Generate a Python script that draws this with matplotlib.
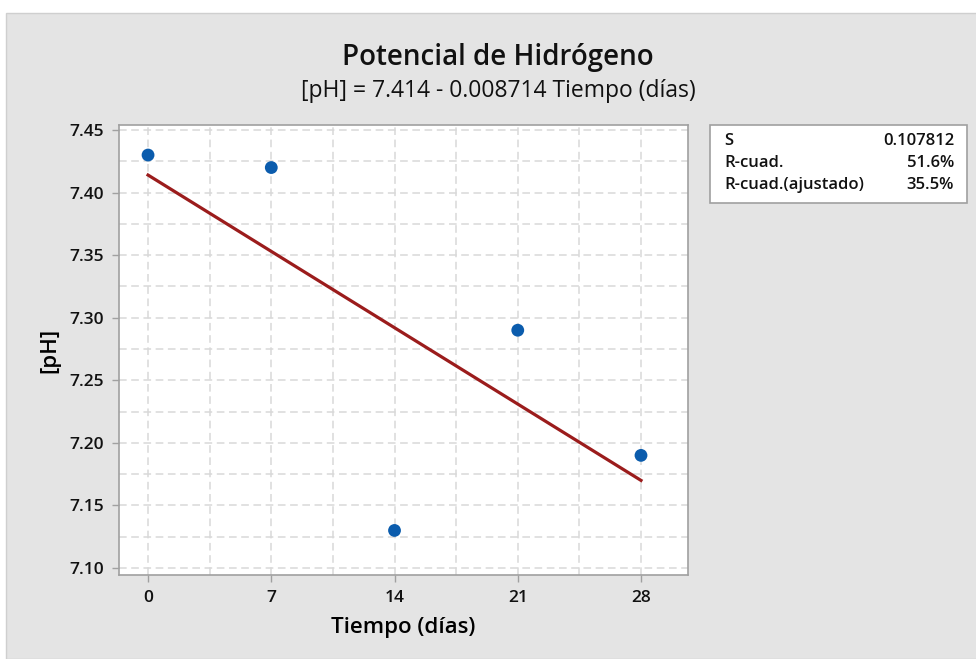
import matplotlib.pyplot as plt
from matplotlib.patches import Rectangle
from matplotlib.ticker import MultipleLocator
import numpy as np

# Data
tiempo = [0, 7, 14, 21, 28]
ph = [7.43, 7.42, 7.13, 7.29, 7.19]
x_ticks = [0, 7, 14, 21, 28]
y_ticks = [7.10, 7.15, 7.20, 7.25, 7.30, 7.35, 7.40, 7.45]
stat_names = ["S", "R-cuad.", "R-cuad.(ajustado)"]
stat_values = ["0.107812", "51.6%", "35.5%"]

plt.rcParams['font.family'] = ['Open Sans', 'DejaVu Sans']
plt.rcParams['text.color'] = '#111111'

W, H = 976, 659
fig = plt.figure(figsize=(W / 100, H / 100), dpi=100, facecolor="white")

# gray panel with thin border
fig.patches.append(Rectangle((6 / W, 0), 1, 1 - 13 / H, transform=fig.transFigure,
                             facecolor="#e4e4e4", edgecolor="#cfcfcf", linewidth=1, zorder=-5))

ax = fig.add_axes([119 / W, 1 - 575 / H, (688 - 119) / W, (575 - 125) / H])
ax.set_zorder(2)
ax.set_facecolor("white")

# Regression fit
slope, intercept = np.polyfit(tiempo, ph, 1)
xs = np.array([min(tiempo), max(tiempo)])
ax.plot(xs, intercept + slope * xs, color="#9b1c1c", linewidth=2.3, zorder=3)
ax.scatter(tiempo, ph, s=85, color="#0b5cad", zorder=4, edgecolors="none")

ax.set_xlim(-1.65, 30.67)
ax.set_ylim(7.0944, 7.454)
ax.set_xticks(x_ticks)
ax.set_yticks(y_ticks)
ax.set_yticklabels([f"{v:.2f}" for v in y_ticks])
ax.xaxis.set_minor_locator(MultipleLocator(3.5))
ax.yaxis.set_minor_locator(MultipleLocator(0.025))

ax.grid(which="both", color="#d8d8d8", linestyle=(0, (5, 3)), linewidth=1.1)
ax.set_axisbelow(True)
ax.tick_params(which="major", length=5, width=1, color="#a0a0a0", labelsize=12.5, pad=6,
               labelcolor="#111111")
ax.tick_params(which="minor", length=0)
for lbl in ax.get_xticklabels() + ax.get_yticklabels():
    lbl.set_fontweight("semibold")
for s in ax.spines.values():
    s.set_color("#a0a0a0")
    s.set_linewidth(1.2)

ax.set_xlabel("Tiempo (días)", fontsize=16, labelpad=8, fontweight="semibold")
ax.set_ylabel("[pH]", fontsize=16, labelpad=6, fontweight="semibold")

fig.text(498 / W, 1 - 57 / H, "Potencial de Hidrógeno", fontsize=20, ha="center", va="center",
         fontweight="semibold")
fig.text(498 / W, 1 - 91 / H, "[pH] = 7.414 - 0.008714 Tiempo (días)", fontsize=16.5,
         ha="center", va="center")

# Stats box
fig.patches.append(Rectangle((710 / W, 1 - 203 / H), (967 - 710) / W, (203 - 125) / H,
                             transform=fig.transFigure, facecolor="white",
                             edgecolor="#a0a0a0", linewidth=1.2, zorder=2))
for i, (name, val) in enumerate(zip(stat_names, stat_values)):
    yy = 1 - (141 + 22 * i) / H
    fig.text(724 / W, yy, name, fontsize=12, ha="left", va="center", zorder=3,
             fontweight="semibold")
    fig.text(954 / W, yy, val, fontsize=12, ha="right", va="center", zorder=3,
             fontweight="semibold")

fig.savefig("out.png", dpi=100)
